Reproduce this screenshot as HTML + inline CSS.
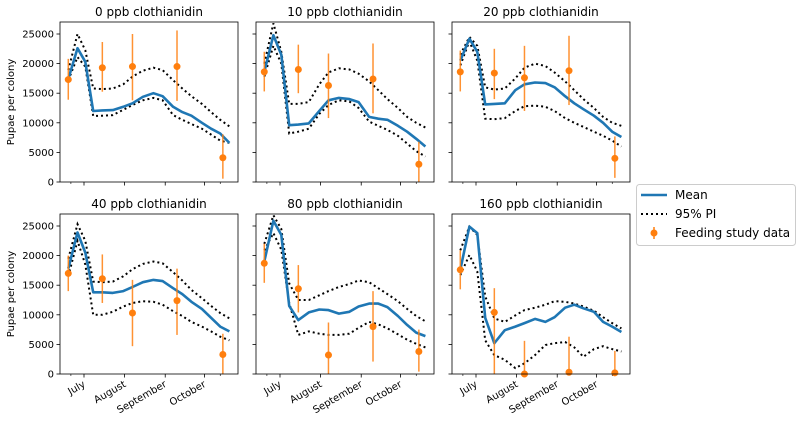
<!DOCTYPE html>
<html><head><meta charset="utf-8">
<style>
html,body{margin:0;padding:0;background:#fff;}
svg{display:block;font-family:"DejaVu Sans","Liberation Sans",sans-serif;}
</style></head>
<body>
<svg id="chart" width="802" height="424" xmlns="http://www.w3.org/2000/svg">
  <text x="14" y="102" font-size="10" text-anchor="middle" transform="rotate(-90 14 102)">Pupae per colony</text>
  <text x="14" y="294" font-size="10" text-anchor="middle" transform="rotate(-90 14 294)">Pupae per colony</text>
  <g>
    <rect x="636.5" y="184.5" width="159" height="61" rx="3" fill="#fff" stroke="#ccc"/>
    <line x1="641" y1="195" x2="667" y2="195" stroke="#1f77b4" stroke-width="2.5"/>
    <text x="675" y="199" font-size="12">Mean</text>
    <line x1="641" y1="214" x2="667" y2="214" stroke="#000" stroke-width="2" stroke-dasharray="2,3"/>
    <text x="675" y="218" font-size="12">95% PI</text>
    <line x1="654" y1="227" x2="654" y2="239" stroke="#ff7f0e" stroke-width="1.5"/>
    <circle cx="654" cy="233" r="3.5" fill="#ff7f0e"/>
    <text x="675" y="237" font-size="12">Feeding study data</text>
  </g>
</svg>
<script>
const days = [-12,-5,1,7,14,22,30,37,45,53,60,68,75,82,90,97,104,111];
const titles = ["0 ppb clothianidin","10 ppb clothianidin","20 ppb clothianidin","40 ppb clothianidin","80 ppb clothianidin","160 ppb clothianidin"];
const meanSeries = [
 [17400,22600,20300,12000,12100,12150,12700,13300,14400,15000,14500,12700,11800,11200,10000,9000,8200,6600],
 [18600,24800,21500,9600,9700,9900,12000,13800,14200,14000,13500,11000,10700,10500,9500,8500,7300,6000],
 [20500,24200,22000,13100,13200,13300,15500,16500,16800,16700,16000,14500,13300,12300,11200,10000,8500,7600],
 [17800,23900,20500,13800,13800,13700,14000,14700,15500,15900,15700,14500,13500,12200,11000,9500,8000,7200],
 [19000,25900,23500,11500,9100,10400,10900,10800,10200,10500,11400,11900,11900,11300,9800,8300,7000,6400],
 [17600,24900,23800,9500,5200,7400,8000,8600,9300,8800,9600,11200,11700,11100,10500,8800,8000,7100]
];
const upperSeries = [
 [18900,25000,22250,15800,15700,15800,16500,17800,18800,19300,18900,17200,15800,14500,13200,11800,10500,9400],
 [20000,26800,22000,13200,13200,13500,16500,18500,19200,19000,18300,17000,15500,14000,12500,11000,10000,9200],
 [21500,24500,23000,16000,15600,15800,17500,19300,20000,19600,18500,17000,15500,14000,12500,11000,10000,9500],
 [19500,25300,22500,15600,15500,15600,16500,17700,18600,19000,18700,17200,15800,14200,12800,11500,10300,9400],
 [22000,26800,24500,15300,12500,12500,13300,14000,14700,15200,15800,15500,14500,13500,12300,11000,9800,8900],
 [20900,24900,23500,13100,9400,8800,9900,10800,11200,11700,12300,12200,11900,11400,10700,9600,8600,7700]
];
const lowerSeries = [
 [17200,21100,19500,11150,11200,11300,12200,13000,13800,14200,13800,11300,10500,9800,9000,8000,7000,6600],
 [17800,23000,20000,8200,8500,9000,11500,13000,13800,13600,12500,10200,9500,8800,7800,6500,5200,4300],
 [19700,23800,20500,10700,10600,10800,12000,12800,12900,12700,12000,10800,10000,9300,8500,7800,7000,6000],
 [16500,22500,18500,10000,10000,10500,11400,12000,12300,12200,11700,10600,9800,8800,8000,7200,6300,5700],
 [20900,23800,21000,12000,6600,7200,6800,6600,6600,6800,7800,8800,8400,7700,6700,5800,5100,4500],
 [16700,20100,17300,5700,3200,2400,1000,1800,3200,4900,5200,5400,4500,2900,4200,4700,4200,3800]
];
const obsDays = [-12,14,37,71,106];
const obsValues = [
 [17300,19300,19500,19500,4100],
 [18600,19000,16300,17400,3000],
 [18600,18400,17600,18800,4000],
 [17000,16100,10300,12400,3300],
 [18700,14400,3200,8000,3800],
 [17600,10400,0,300,200]
];
const obsLow = [
 [13900,15250,13800,13700,560],
 [15300,15000,10800,11600,0],
 [15300,14000,12000,13000,700],
 [14000,12000,4700,6600,0],
 [15400,10400,0,2100,400],
 [14300,0,0,0,0]
];
const obsHigh = [
 [20800,23650,25000,25600,8050],
 [22000,23200,21700,23400,6800],
 [22200,22500,23000,24700,7700],
 [20000,20200,15900,17800,6800],
 [22000,18400,8700,14000,7500],
 [20900,14500,5600,6300,3900]
];
const yTicks = [0,5000,10000,15000,20000,25000];
const monthNames = ["July","August","September","October"];
const monthDays = [0,31,62,92];
const minorDays = [-10,104];

const NS = "http://www.w3.org/2000/svg";
const svg = document.getElementById("chart");
const lefts = [60,256,452], tops = [22,214];
const W = 178, H = 160;
function mk(tag, attrs, parent){ const e=document.createElementNS(NS,tag); for(const k in attrs) e.setAttribute(k,attrs[k]); (parent||svg).appendChild(e); return e; }

for(let p=0;p<6;p++){
  const col=p%3, row=Math.floor(p/3);
  const L=lefts[col], T=tops[row];
  const xs = d => L + 24 + d*1.31;
  const ys = v => T + H - v*(148/25000);
  const g = mk("g",{});
  
  
  const t = mk("text",{x:L+W/2,y:T-6,"font-size":12,"text-anchor":"middle"},g);
  t.textContent = titles[p];
  
  
  yTicks.forEach(v=>{
    const y=ys(v);
    mk("line",{x1:L-3.5,y1:y,x2:L,y2:y,stroke:"#000","stroke-width":0.8},g);
    if(col===0){
      const tx=mk("text",{x:L-6,y:y+3.5,"font-size":10,"text-anchor":"end"},g);
      tx.textContent=v;
      
      
    }
  });
  monthDays.forEach((d,i)=>{
    const x=xs(d);
    mk("line",{x1:x,y1:T+H,x2:x,y2:T+H+3.5,stroke:"#000","stroke-width":0.8},g);
    if(row===1){
      const tx=mk("text",{x:x+2,y:T+H+12,"font-size":10,"text-anchor":"end",transform:`rotate(-30 ${x+2} ${T+H+12})`},g);
      tx.textContent=monthNames[i];
      
      
    }
  });
  minorDays.forEach(d=>{ const x=xs(d); mk("line",{x1:x,y1:T+H,x2:x,y2:T+H+2,stroke:"#000","stroke-width":0.6},g); });
  const cp = mk("clipPath",{id:"c"+p},g);
  mk("rect",{x:L,y:T,width:W,height:H},cp);
  const pts = arr => arr.map((v,i)=>xs(days[i]).toFixed(1)+","+ys(v).toFixed(1)).join(" ");
  const up = mk("polyline",{points:pts(upperSeries[p]),fill:"none",stroke:"#000","stroke-width":2,"stroke-dasharray":"2,3","clip-path":`url(#c${p})`},g);
  
  
  const lo = mk("polyline",{points:pts(lowerSeries[p]),fill:"none",stroke:"#000","stroke-width":2,"stroke-dasharray":"2,3","clip-path":`url(#c${p})`},g);
  
  
  const mn = mk("polyline",{points:pts(meanSeries[p]),fill:"none",stroke:"#1f77b4","stroke-width":2.6,"stroke-linejoin":"round","clip-path":`url(#c${p})`},g);
  
  
  obsDays.forEach((d,i)=>{
    const x=xs(d);
    const eb=mk("line",{x1:x,y1:ys(obsLow[p][i]),x2:x,y2:ys(obsHigh[p][i]),stroke:"#ff7f0e","stroke-width":1.5,"stroke-opacity":0.85},g);
    
    
    const c=mk("circle",{cx:x,cy:ys(obsValues[p][i]),r:3.5,fill:"#ff7f0e"},g);
    
    
  });
  mk("rect",{x:L,y:T,width:W,height:H,fill:"none",stroke:"#000","stroke-width":0.8},g);
}
</script>
</body></html>
